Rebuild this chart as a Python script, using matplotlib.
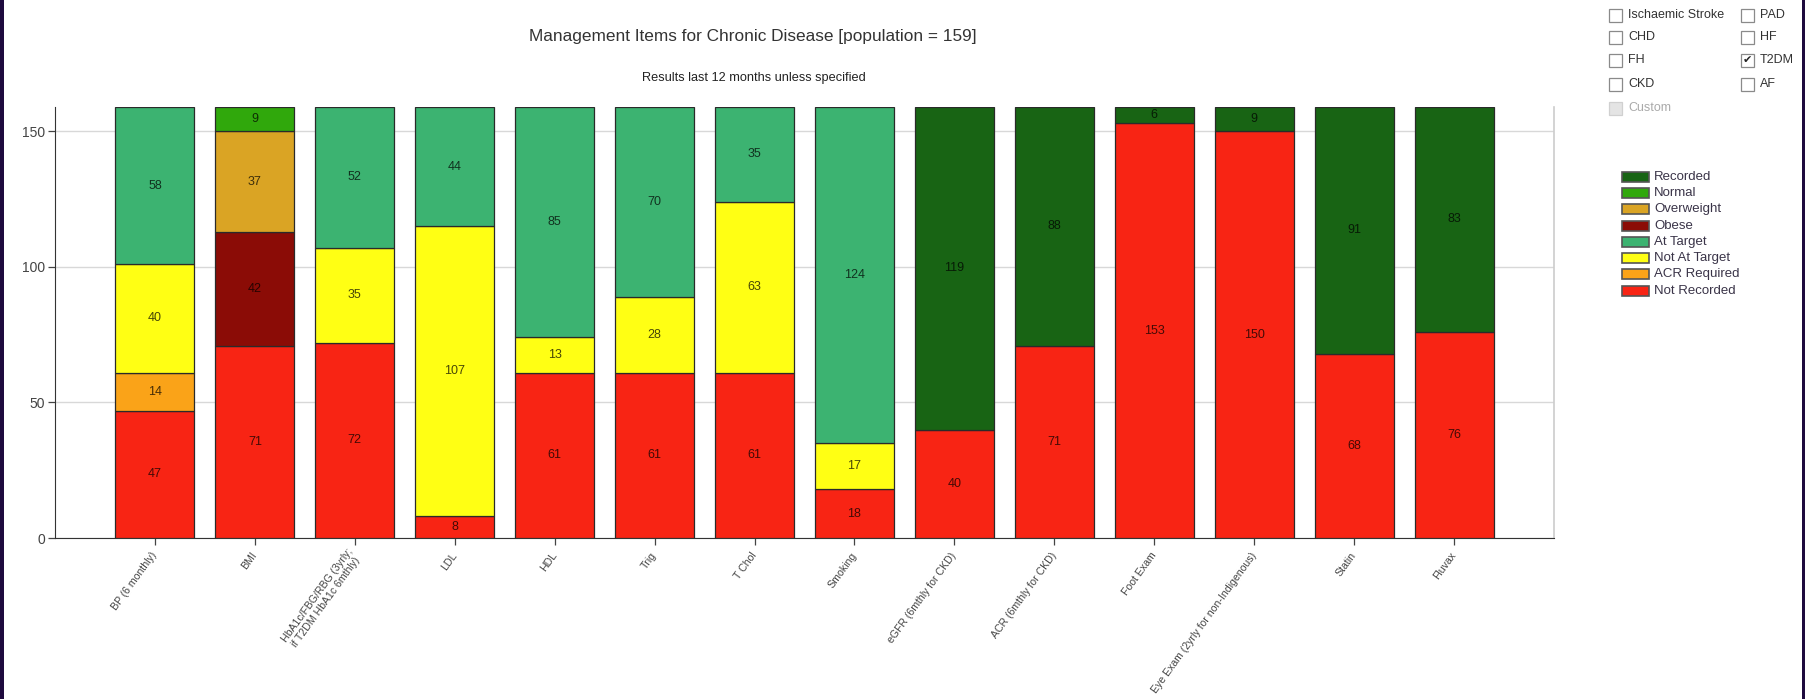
import matplotlib
matplotlib.use("Agg")
import matplotlib.pyplot as plt
from matplotlib.patches import Rectangle
import numpy as np

plt.rcParams['font.family'] = ['Liberation Sans', 'DejaVu Sans']

# ---- data ----
categories = [
    "BP (6 monthly)", "BMI", "HbA1c/FBG/RBG (3yrly;\nif T2DM HbA1c 6mthly)",
    "LDL", "HDL", "Trig", "T Chol", "Smoking", "eGFR (6mthly for CKD)",
    "ACR (6mthly for CKD)", "Foot Exam", "Eye Exam (2yrly for non-Indigenous)",
    "Statin", "Fluvax",
]
# stacked from the bottom up
series_names = ["Not Recorded", "ACR Required", "Not At Target", "At Target",
                "Obese", "Overweight", "Normal", "Recorded"]
not_recorded  = [47, 71, 72, 8, 61, 61, 61, 18, 40, 71, 153, 150, 68, 76]
acr_required  = [14, 0, 0, 0, 0, 0, 0, 0, 0, 0, 0, 0, 0, 0]
not_at_target = [40, 0, 35, 107, 13, 28, 63, 17, 0, 0, 0, 0, 0, 0]
at_target     = [58, 0, 52, 44, 85, 70, 35, 124, 0, 0, 0, 0, 0, 0]
obese         = [0, 42, 0, 0, 0, 0, 0, 0, 0, 0, 0, 0, 0, 0]
overweight    = [0, 37, 0, 0, 0, 0, 0, 0, 0, 0, 0, 0, 0, 0]
normal        = [0, 9, 0, 0, 0, 0, 0, 0, 0, 0, 0, 0, 0, 0]
recorded      = [0, 0, 0, 0, 0, 0, 0, 0, 119, 88, 6, 9, 91, 83]
population = 159

series_values = [not_recorded, acr_required, not_at_target, at_target,
                 obese, overweight, normal, recorded]
series_colors = ["#f82414", "#faa318", "#ffff14", "#3cb371",
                 "#8b0c06", "#daa424", "#30a80c", "#186414"]

left_conditions = ["Ischaemic Stroke", "CHD", "FH", "CKD"]
right_conditions = ["PAD", "HF", "T2DM", "AF"]
checked = {"T2DM"}

# ---- figure ----
W, H = 1806, 699
fig = plt.figure(figsize=(W / 100, H / 100), dpi=100)


def fx(px):
    return px / W


def fy(py):
    return 1 - py / H


ax = fig.add_axes([fx(55), fy(538), fx(1554) - fx(55), fy(107) - fy(538)])

x = np.arange(len(categories))
bottom = np.zeros(len(categories))
width = 0.79
for name, vals, col in zip(series_names, series_values, series_colors):
    vals = np.array(vals, dtype=float)
    mask = vals > 0
    ax.bar(x[mask], vals[mask], width, bottom=bottom[mask], color=col,
           edgecolor="#2a2a2a", linewidth=0.9, zorder=3, label=name)
    for xi, v, b in zip(x[mask], vals[mask], bottom[mask]):
        ax.text(xi, b + v / 2, f"{int(v)}", ha="center", va="center",
                fontsize=9, color="black", alpha=0.72, zorder=4)
    bottom += vals

ax.set_xlim(-1, 14)
ax.set_ylim(0, population)
ax.set_yticks([0, 50, 100, 150])
ax.yaxis.grid(True, color="#d8d8d8", linewidth=1.0, zorder=0)
ax.set_xticks(x)
ax.set_xticklabels(categories, rotation=54, ha="right", va="center",
                   rotation_mode="anchor", fontsize=7.6, color="#444444",
                   multialignment="center")
ax.tick_params(axis="x", length=5, width=0.9, color="#444444", pad=6)
ax.tick_params(axis="y", length=5, width=0.9, color="#444444", labelsize=10,
               labelcolor="#444444", pad=2)
ax.spines["top"].set_visible(False)
ax.spines["right"].set_color("#cccccc")
ax.spines["right"].set_linewidth(1.2)
ax.spines["left"].set_color("#333333")
ax.spines["bottom"].set_color("#333333")

# titles
fig.text(fx(753), fy(37), f"Management Items for Chronic Disease [population = {population}]",
         ha="center", va="center", fontsize=12.4, color="#333333")
fig.text(fx(754), fy(78), "Results last 12 months unless specified",
         ha="center", va="center", fontsize=9.2, color="#222222")

# condition check boxes
row_y = [15, 37, 60, 84]
box = 13


def checkbox(px, py, label, is_checked=False, enabled=True):
    edge = "#8a8a8a" if enabled else "#d0d0d0"
    face = "white" if enabled else "#e4e4e4"
    fig.patches.append(Rectangle((fx(px), fy(py + box / 2)), fx(box), box / H,
                                 transform=fig.transFigure, facecolor=face,
                                 edgecolor=edge, linewidth=0.9))
    if is_checked:
        fig.text(fx(px + box / 2), fy(py), "\u2714", ha="center", va="center",
                 fontsize=8, color="#222222", family=["DejaVu Sans"])
    fig.text(fx(px + box + 6), fy(py), label, ha="left", va="center",
             fontsize=9, color="#333333" if enabled else "#aaaaaa")


for ry, lab in zip(row_y, left_conditions):
    checkbox(1609, ry, lab, lab in checked)
for ry, lab in zip(row_y, right_conditions):
    checkbox(1741, ry, lab, lab in checked)
checkbox(1609, 108, "Custom", enabled=False)

# legend (top entry first)
leg_y = [177, 193, 209, 226, 242, 258, 274, 291]
for ly, name, col in zip(leg_y, series_names[::-1], series_colors[::-1]):
    fig.patches.append(Rectangle((fx(1622), fy(ly + 5)), fx(27), 10 / H,
                                 transform=fig.transFigure, facecolor=col,
                                 edgecolor="#555555", linewidth=1.2))
    fig.text(fx(1654), fy(ly), name, ha="left", va="center",
             fontsize=9.5, color="#3a3448")

# window frame edges
for x0, w in [(0, 4), (1802, 4)]:
    fig.patches.append(Rectangle((fx(x0), 0), fx(w), 1, transform=fig.transFigure,
                                 facecolor="#1e0a3e", edgecolor="none"))

fig.savefig("out.png", dpi=100, facecolor="white")
